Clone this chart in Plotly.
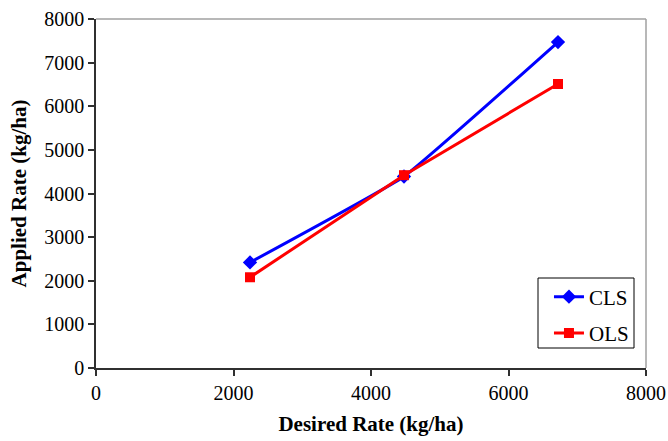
import plotly.graph_objects as go

desired = [2240, 4480, 6720]
cls_applied = [2420, 4390, 7470]
ols_applied = [2080, 4420, 6510]

x_ticks = [0, 2000, 4000, 6000, 8000]
y_ticks = [0, 1000, 2000, 3000, 4000, 5000, 6000, 7000, 8000]

FONT = "Liberation Serif"

fig = go.Figure()
fig.add_trace(go.Scatter(
    x=desired, y=cls_applied, name="CLS", mode="lines+markers", legendgroup="a",
    line=dict(color="#0000FF", width=3, shape="spline", smoothing=0.3),
    marker=dict(symbol="diamond", size=11, color="#0000FF"),
))
fig.add_trace(go.Scatter(
    x=desired, y=ols_applied, name="OLS", mode="lines+markers", legendgroup="b",
    line=dict(color="#FF0000", width=3),
    marker=dict(symbol="square", size=10, color="#FF0000"),
))

fig.update_layout(
    width=668, height=441,
    margin=dict(l=96, r=22, t=19, b=73, autoexpand=False),
    paper_bgcolor="white", plot_bgcolor="white",
    font=dict(family=FONT, size=19, color="black"),
    showlegend=True,
    legend=dict(
        x=0.8236, y=0.262, xanchor="left", yanchor="top",
        borderwidth=0, bgcolor="rgba(0,0,0,0)",
        font=dict(family=FONT, size=21, color="black"),
        tracegroupgap=6, itemwidth=30,
    ),
    shapes=[
        dict(type="line", xref="paper", yref="paper", x0=0, x1=1, y0=1, y1=1,
             line=dict(color="#A0A0A0", width=1.5)),
        dict(type="line", xref="paper", yref="paper", x0=1, x1=1, y0=0, y1=1,
             line=dict(color="#A0A0A0", width=1.5)),
        dict(type="rect", xref="paper", yref="paper",
             x0=(538 - 96) / 550, x1=(634 - 96) / 550,
             y0=(368 - 348) / 349, y1=(368 - 278) / 349,
             line=dict(color="black", width=1), fillcolor="white", layer="above"),
    ],
)
fig.update_xaxes(
    range=[0, 8000], tickvals=x_ticks, ticktext=[str(v) for v in x_ticks],
    showgrid=False, zeroline=False, showline=True, linecolor="#303030", linewidth=1.5,
    ticks="outside", ticklen=6, tickcolor="#303030", tickwidth=1.5, automargin=False,
    tickfont=dict(family=FONT, size=20),
    title=dict(text="<b>Desired Rate (kg/ha)</b>", font=dict(family=FONT, size=21), standoff=14),
)
fig.update_yaxes(
    range=[0, 8000], tickvals=y_ticks, ticktext=[str(v) for v in y_ticks],
    showgrid=False, zeroline=False, showline=True, linecolor="#303030", linewidth=1.5,
    ticks="outside", ticklen=6, tickcolor="#303030", tickwidth=1.5, automargin=False,
    tickfont=dict(family=FONT, size=20),
    title=dict(text="<b>Applied Rate (kg/ha)</b>", font=dict(family=FONT, size=21), standoff=12),
)

fig.write_html("out.html")
